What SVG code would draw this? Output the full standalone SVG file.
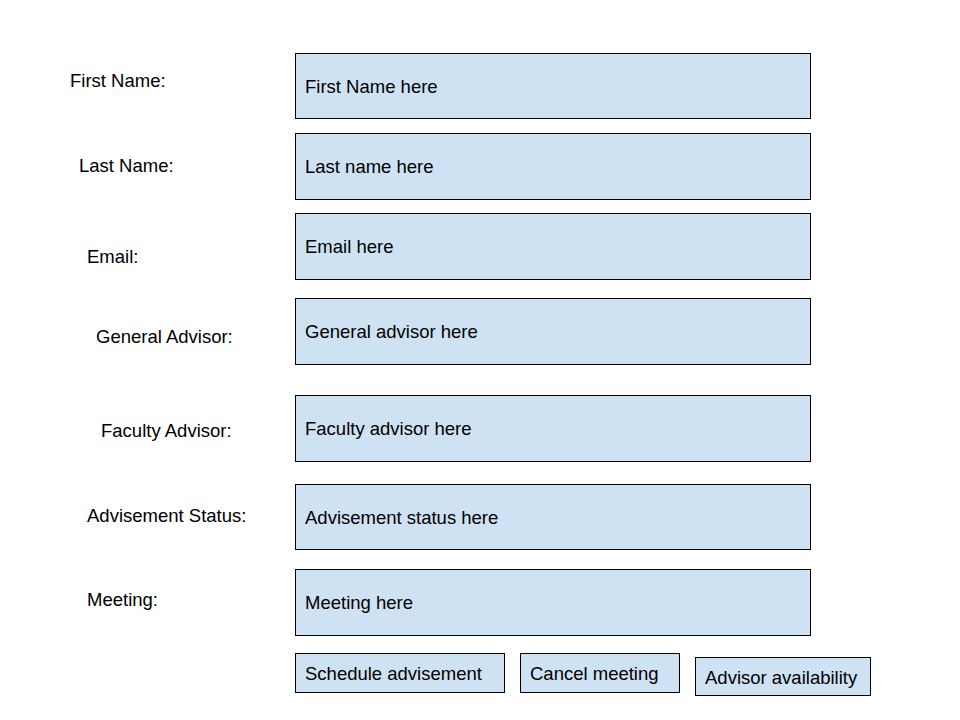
<svg xmlns="http://www.w3.org/2000/svg" width="960" height="720" viewBox="0 0 960 720">
<style>
.box{fill:#cfe2f3;stroke:#000;stroke-width:1}
text{font-family:"Liberation Sans",Arial,sans-serif;font-size:18.5px;fill:#000}
</style>
<rect width="960" height="720" fill="#fff"/>
<g id="labels">
<text x="70" y="87">First Name:</text>
<text x="79" y="172">Last Name:</text>
<text x="87" y="263">Email:</text>
<text x="96" y="343">General Advisor:</text>
<text x="101" y="437">Faculty Advisor:</text>
<text x="87" y="522">Advisement Status:</text>
<text x="87" y="606">Meeting:</text>
</g>
<g id="first-name"><rect class="box" x="295.5" y="53.5" width="515" height="65"/><text x="305" y="93">First Name here</text></g>
<g id="last-name"><rect class="box" x="295.5" y="133.5" width="515" height="66"/><text x="305" y="173">Last name here</text></g>
<g id="email"><rect class="box" x="295.5" y="213.5" width="515" height="66"/><text x="305" y="253">Email here</text></g>
<g id="general-advisor"><rect class="box" x="295.5" y="298.5" width="515" height="66"/><text x="305" y="338">General advisor here</text></g>
<g id="faculty-advisor"><rect class="box" x="295.5" y="395.5" width="515" height="66"/><text x="305" y="435">Faculty advisor here</text></g>
<g id="advisement-status"><rect class="box" x="295.5" y="484.5" width="515" height="65"/><text x="305" y="524">Advisement status here</text></g>
<g id="meeting"><rect class="box" x="295.5" y="569.5" width="515" height="66"/><text x="305" y="609">Meeting here</text></g>
<g id="schedule"><rect class="box" x="295.5" y="653.5" width="209" height="39"/><text x="305" y="680">Schedule advisement</text></g>
<g id="cancel"><rect class="box" x="520.5" y="653.5" width="159" height="39"/><text x="530" y="680">Cancel meeting</text></g>
<g id="availability"><rect class="box" x="695.5" y="657.5" width="175" height="38"/><text x="705" y="684">Advisor availability</text></g>
<g id="connectors"></g>
</svg>
